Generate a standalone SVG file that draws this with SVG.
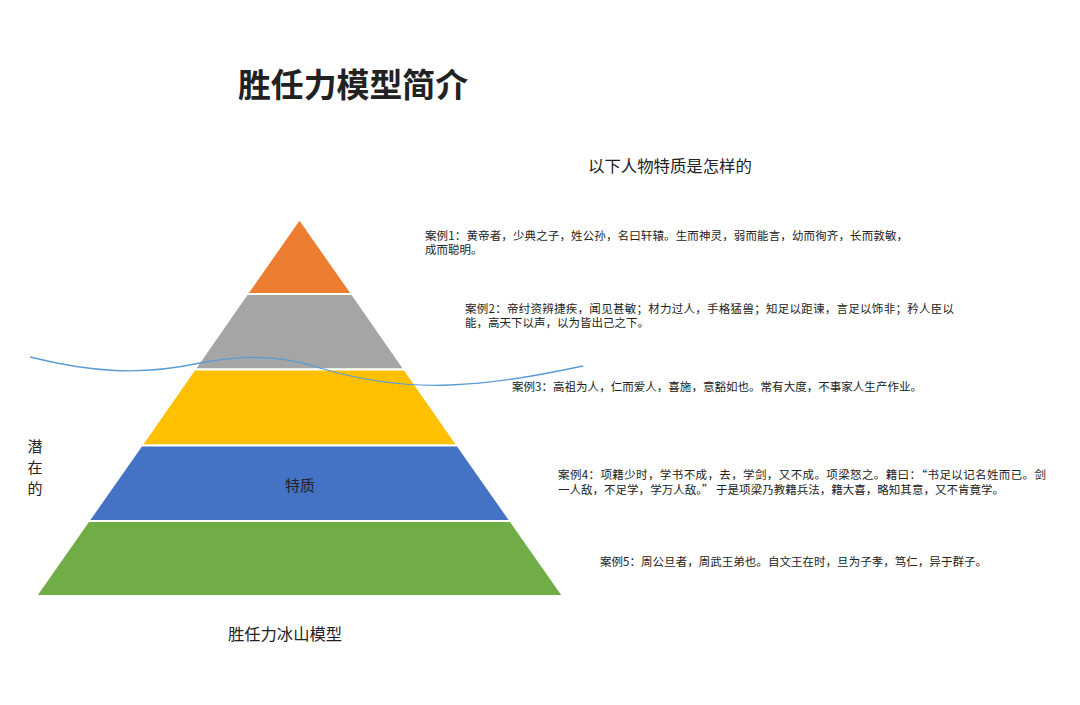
<svg xmlns="http://www.w3.org/2000/svg" width="1080" height="705" viewBox="0 0 1080 705">
<style>
.t{font-family:"Noto Sans CJK SC","Noto Sans",sans-serif;fill:#222;}
.case{font-size:11.5px;}
.layer{stroke:#fff;stroke-width:2;}
</style>
<rect width="1080" height="705" fill="#fff"/>
<text class="t" x="238" y="97" font-size="33" font-weight="bold" fill="#000" textLength="230" lengthAdjust="spacingAndGlyphs">胜任力模型简介</text>
<text class="t" x="588" y="172" font-size="16.4">以下人物特质是怎样的</text>
<g id="pyramid">
<g id="layer1"><polygon class="layer" points="299.5,219 352,294 247,294" fill="#ED7D31"/></g>
<g id="layer2"><polygon class="layer" points="247,294 352,294 404.5,369.5 194.5,369.5" fill="#A5A5A5"/></g>
<g id="layer3"><polygon class="layer" points="194.5,369.5 404.5,369.5 457.5,445.5 141.5,445.5" fill="#FFC000"/></g>
<g id="layer4"><polygon class="layer" points="141.5,445.5 457.5,445.5 510.5,521 88.5,521" fill="#4472C4"/>
<text class="t" x="300" y="491" font-size="15" text-anchor="middle" fill="#1a1a1a">特质</text></g>
<g id="layer5"><polygon class="layer" points="88.5,521 510.5,521 563,596 36,596" fill="#70AD47"/></g>
</g>
<g id="connectors">
<path d="M30,357 C90,372 140,376 200,363 C240,355 280,354 320,368 C360,380 400,387 450,385 C500,383 545,374 583,366" fill="none" stroke="#5B9BD5" stroke-width="1.3"/>
</g>
<g id="latent">
<text class="t" font-size="15" text-anchor="middle"><tspan x="35" y="452">潜</tspan><tspan x="35" y="473">在</tspan><tspan x="35" y="494">的</tspan></text>
</g>
<g id="case1"><text class="t case"><tspan x="425" y="240" textLength="483" lengthAdjust="spacing">案例1：黄帝者，少典之子，姓公孙，名曰轩辕。生而神灵，弱而能言，幼而徇齐，长而敦敏，</tspan><tspan x="425" y="254">成而聪明。</tspan></text></g>
<g id="case2"><text class="t case"><tspan x="465" y="313" textLength="489" lengthAdjust="spacing">案例2：帝纣资辨捷疾，闻见甚敏；材力过人，手格猛兽；知足以距谏，言足以饰非；矜人臣以</tspan><tspan x="465" y="327">能，高天下以声，以为皆出己之下。</tspan></text></g>
<g id="case3"><text class="t case" x="512" y="391" textLength="410" lengthAdjust="spacing">案例3：高祖为人，仁而爱人，喜施，意豁如也。常有大度，不事家人生产作业。</text></g>
<g id="case4"><text class="t case"><tspan x="558" y="479" textLength="488" lengthAdjust="spacing">案例4：项籍少时，学书不成，去，学剑，又不成。项梁怒之。籍曰：“书足以记名姓而已。剑</tspan><tspan x="558" y="494" textLength="446" lengthAdjust="spacing">一人敌，不足学，学万人敌。” 于是项梁乃教籍兵法，籍大喜，略知其意，又不肯竟学。</tspan></text></g>
<g id="case5"><text class="t case" x="600" y="566" textLength="387" lengthAdjust="spacing">案例5：周公旦者，周武王弟也。自文王在时，旦为子孝，笃仁，异于群子。</text></g>
<text class="t" x="228" y="640" font-size="16.3">胜任力冰山模型</text>
</svg>
